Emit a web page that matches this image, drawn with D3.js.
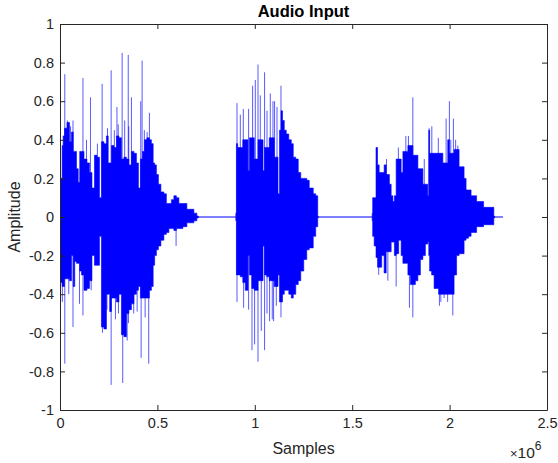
<!DOCTYPE html>
<html>
<head>
<meta charset="utf-8">
<script src="https://cdn.jsdelivr.net/npm/d3@7"></script>
<style>
  body { margin: 0; background: #fff; }
  svg { display: block; font-family: "Liberation Sans", Arial, sans-serif; }
</style>
</head>
<body>
<svg id="canvas"></svg>
<script>
"use strict";

// envelope of the waveform (samples, amplitude)
const seg1Samples = [2600, 7700, 14400, 17900, 28200, 43600, 53800, 64100, 71800, 79500,
  89700, 97400, 105100, 115400, 130800, 146200, 156400, 171800, 182100, 197400,
  207700, 217900, 233300, 243600, 251300, 259000, 269200, 284600, 294900, 310300,
  320500, 335900, 346200, 361500, 371800, 387200, 397400, 407700, 417900, 428200,
  438500, 453800, 464100, 474400, 482100, 489700, 500000, 510300, 525600, 541000,
  551300, 566700, 576900, 592300, 602600, 617900, 643600, 659000, 679500, 694900, 710300];
const seg1High = [0.08, 0.2, 0.37, 0.42, 0.46, 0.49, 0.39, 0.44, 0.34, 0.34,
  0.25, 0.18, 0.34, 0.34, 0.3, 0.28, 0.23, 0.15, 0.32, 0.31,
  0.1, 0.39, 0.38, 0.42, 0.28, 0.28, 0.37, 0.36, 0.42, 0.41,
  0.3, 0.31, 0.3, 0.27, 0.34, 0.33, 0.28, 0.15, 0.3, 0.34,
  0.4, 0.41, 0.4, 0.38, 0.28, 0.27, 0.22, 0.17, 0.13, 0.12,
  0.07, 0.07, 0.09, 0.11, 0.1, 0.07, 0.07, 0.04, 0.04, 0.02, 0.005];
const seg1Low = [-0.16, -0.34, -0.36, -0.36, -0.32, -0.32, -0.33, -0.2, -0.36, -0.23,
  -0.24, -0.24, -0.28, -0.3, -0.38, -0.37, -0.33, -0.2, -0.25, -0.25,
  -0.1, -0.57, -0.58, -0.4, -0.4, -0.49, -0.42, -0.42, -0.44, -0.4,
  -0.61, -0.62, -0.5, -0.48, -0.45, -0.4, -0.38, -0.36, -0.42, -0.42,
  -0.42, -0.42, -0.38, -0.36, -0.25, -0.2, -0.17, -0.15, -0.12, -0.09,
  -0.08, -0.06, -0.06, -0.07, -0.06, -0.06, -0.05, -0.03, -0.03, -0.02, -0.005];

const seg2Samples = [902600, 908700, 915400, 935900, 941000, 961500, 968200, 976900, 992300, 1002600,
  1012800, 1020500, 1038500, 1046200, 1053800, 1069200, 1079500, 1094900, 1105100, 1115400,
  1123100, 1130800, 1138500, 1146200, 1156400, 1166700, 1182100, 1192300, 1202600, 1217900,
  1228200, 1243600, 1259000, 1274400, 1284600, 1294900, 1305100, 1320500, 1325600];
const seg2High = [0.02, 0.38, 0.36, 0.36, 0.4, 0.4, 0.24, 0.41, 0.41, 0.3,
  0.3, 0.4, 0.4, 0.24, 0.36, 0.36, 0.41, 0.41, 0.31, 0.31,
  0.12, 0.45, 0.55, 0.5, 0.45, 0.43, 0.4, 0.38, 0.31, 0.3,
  0.23, 0.2, 0.2, 0.19, 0.15, 0.15, 0.12, 0.11, 0.005];
const seg2Low = [-0.02, -0.3, -0.3, -0.31, -0.34, -0.38, -0.2, -0.3, -0.37, -0.38,
  -0.38, -0.33, -0.33, -0.15, -0.3, -0.31, -0.33, -0.33, -0.36, -0.36,
  -0.3, -0.44, -0.44, -0.4, -0.38, -0.38, -0.4, -0.42, -0.4, -0.35,
  -0.33, -0.28, -0.22, -0.17, -0.16, -0.16, -0.1, -0.05, -0.005];

const seg3Samples = [1602600, 1607700, 1617900, 1626700, 1633300, 1643600, 1659000, 1669200, 1679500, 1687200,
  1694900, 1705100, 1712800, 1720500, 1730800, 1746200, 1756400, 1764100, 1782100, 1789700,
  1807700, 1815400, 1833300, 1841000, 1859000, 1866700, 1884600, 1891300, 1894900, 1900000,
  1915400, 1925600, 1961500, 1969200, 1987200, 1993800, 2002600, 2017900, 2028200, 2043600,
  2053800, 2069200, 2079500, 2089700, 2105100, 2115400, 2130800, 2146200, 2166700, 2182000,
  2197400, 2223100, 2230800];
const seg3High = [0.02, 0.1, 0.1, 0.36, 0.27, 0.23, 0.23, 0.27, 0.22, 0.22,
  0.17, 0.11, 0.08, 0.11, 0.3, 0.3, 0.23, 0.34, 0.34, 0.37,
  0.37, 0.32, 0.32, 0.25, 0.25, 0.17, 0.17, 0.11, 0.45, 0.33,
  0.33, 0.33, 0.33, 0.28, 0.28, 0.4, 0.33, 0.33, 0.35, 0.35,
  0.26, 0.26, 0.2, 0.14, 0.14, 0.11, 0.11, 0.08, 0.08, 0.05,
  0.05, 0.05, 0.005];
const seg3Low = [-0.02, -0.1, -0.15, -0.21, -0.26, -0.26, -0.2, -0.29, -0.18, -0.18,
  -0.18, -0.13, -0.13, -0.2, -0.19, -0.12, -0.2, -0.24, -0.24, -0.3,
  -0.35, -0.35, -0.33, -0.3, -0.22, -0.2, -0.14, -0.13, -0.2, -0.28,
  -0.3, -0.37, -0.4, -0.4, -0.4, -0.4, -0.4, -0.4, -0.3, -0.2,
  -0.19, -0.19, -0.12, -0.11, -0.1, -0.08, -0.08, -0.05, -0.05, -0.04,
  -0.04, -0.04, -0.005];

// isolated peaks
const peakUpSamples = [24600, 66700, 117900, 156400, 216400, 262600, 292300, 319000, 350300, 366700,
  414400, 421500, 447200, 459000,
  38000, 54000, 136000, 192000, 244000, 279000, 299000, 332000, 353000, 433000,
  908700, 925600, 941000, 968200, 988700, 1002600, 1016400, 1028200, 1050200, 1062600,
  1079500, 1093300, 1101500, 1113900, 1134400,
  1775400, 1788700, 1811300, 1894900, 1908700, 1982100, 1999000, 2019500, 2042100,
  1676000, 1737000, 1870000, 1942000, 2006000, 2031000];
const peakUpValues = [0.74, 0.5, 0.72, 0.62, 0.69, 0.76, 0.57, 0.85, 0.84, 0.62,
  0.6, 0.81, 0.44, 0.54,
  0.5, 0.47, 0.4, 0.38, 0.46, 0.45, 0.48, 0.5, 0.47, 0.45,
  0.59, 0.53, 0.56, 0.56, 0.68, 0.71, 0.79, 0.63, 0.75, 0.55,
  0.64, 0.6, 0.6, 0.57, 0.68,
  0.42, 0.42, 0.62, 0.46, 0.47, 0.51, 0.6, 0.51, 0.37,
  0.3, 0.36, 0.3, 0.41, 0.4, 0.4];
const peakDownSamples = [24600, 66700, 117900, 217900, 262600, 284600, 322100, 344600, 351300, 378500,
  416400, 455400, 595900,
  12000, 45000, 100000, 160000, 241000, 300000, 396000, 437000,
  908700, 942600, 968200, 985600, 999000, 1016400, 1033300, 1050200, 1062600, 1075900,
  1089700, 1096400, 1110300, 1134400,
  1725600, 1793800, 1811300, 1925600, 1947700, 1971800, 2016400,
  1636000, 1683000, 1955000, 1990000];
const peakDownValues = [-0.76, -0.57, -0.51, -0.6, -0.87, -0.53, -0.86, -0.64, -0.55, -0.5,
  -0.73, -0.76, -0.15,
  -0.44, -0.4, -0.45, -0.38, -0.48, -0.5, -0.49, -0.52,
  -0.44, -0.47, -0.48, -0.69, -0.66, -0.75, -0.59, -0.69, -0.5, -0.54,
  -0.53, -0.54, -0.46, -0.52,
  -0.36, -0.47, -0.52, -0.37, -0.46, -0.42, -0.51,
  -0.3, -0.33, -0.44, -0.44];

const signalEnd = 2274000;
const xTicks = [0, 500000, 1000000, 1500000, 2000000, 2500000];
const yTicks = [-1, -0.8, -0.6, -0.4, -0.2, 0, 0.2, 0.4, 0.6, 0.8, 1];

let width = 558;
let height = 463;
let padLeft = 60, padRight = 547, padTop = 24, padBottom = 410;
const axisColor = '#262626';
const lineColor = '#0000ff';

let canvas = d3.select('#canvas')
  .attr('width', width)
  .attr('height', height);

let xScale = d3.scaleLinear().domain([0, 2500000]).range([padLeft, padRight]);
let yScale = d3.scaleLinear().domain([-1, 1]).range([padBottom, padTop]);

const plot = canvas.append('g');

// zero line across the whole recording
plot.append('line')
  .attr('x1', xScale(0)).attr('x2', xScale(signalEnd))
  .attr('y1', yScale(0)).attr('y2', yScale(0))
  .attr('stroke', lineColor)
  .attr('stroke-width', 1);

const area = d3.area()
  .curve(d3.curveStep)
  .x(d => xScale(d.s))
  .y0(d => yScale(d.lo))
  .y1(d => yScale(d.hi));

[[seg1Samples, seg1High, seg1Low], [seg2Samples, seg2High, seg2Low], [seg3Samples, seg3High, seg3Low]]
  .forEach(([s, hi, lo]) => {
    let pts = s.map((v, i) => ({s: v, hi: hi[i], lo: lo[i]}));
    plot.append('path')
      .attr('d', area(pts))
      .attr('fill', lineColor)
      .attr('stroke', lineColor)
      .attr('stroke-width', 0.6);
  });

plot.selectAll('line.up')
  .data(peakUpSamples)
  .enter()
  .append('line')
  .attr('class', 'up')
  .attr('x1', d => xScale(d)).attr('x2', d => xScale(d))
  .attr('y1', yScale(0))
  .attr('y2', (d, i) => yScale(peakUpValues[i]))
  .attr('stroke', lineColor)
  .attr('stroke-opacity', 0.65)
  .attr('stroke-width', 1);

plot.selectAll('line.down')
  .data(peakDownSamples)
  .enter()
  .append('line')
  .attr('class', 'down')
  .attr('x1', d => xScale(d)).attr('x2', d => xScale(d))
  .attr('y1', yScale(0))
  .attr('y2', (d, i) => yScale(peakDownValues[i]))
  .attr('stroke', lineColor)
  .attr('stroke-opacity', 0.65)
  .attr('stroke-width', 1);

// axes, matlab style: ticks pointing in, box on
const yFormat = d => String(Math.round(d * 10) / 10);

let xAxis = d3.axisBottom(xScale).tickValues(xTicks)
  .tickFormat(d => String(d / 1e6))
  .tickSizeInner(-5).tickSizeOuter(0).tickPadding(8);
let xTop = d3.axisTop(xScale).tickValues(xTicks)
  .tickFormat('').tickSizeInner(-5).tickSizeOuter(0);
let yAxis = d3.axisLeft(yScale).tickValues(yTicks)
  .tickFormat(yFormat).tickSizeInner(-5).tickSizeOuter(0).tickPadding(6);
let yRight = d3.axisRight(yScale).tickValues(yTicks)
  .tickFormat('').tickSizeInner(-5).tickSizeOuter(0);

const axes = [
  canvas.append('g').attr('transform', 'translate(0,' + padBottom + ')').call(xAxis),
  canvas.append('g').attr('transform', 'translate(0,' + padTop + ')').call(xTop),
  canvas.append('g').attr('transform', 'translate(' + padLeft + ',0)').call(yAxis),
  canvas.append('g').attr('transform', 'translate(' + padRight + ',0)').call(yRight)
];
axes.forEach(g => {
  g.select('.domain').attr('stroke', axisColor);
  g.selectAll('.tick line').attr('stroke', axisColor);
  g.selectAll('.tick text')
    .attr('fill', axisColor)
    .style('font-size', '14.5px')
    .style('font-family', '"Liberation Sans", Arial, sans-serif');
});

canvas.append('text')
  .attr('x', (padLeft + padRight) / 2)
  .attr('y', 17)
  .attr('text-anchor', 'middle')
  .attr('font-weight', 'bold')
  .attr('font-size', 16.5)
  .attr('fill', '#000')
  .text('Audio Input');

canvas.append('text')
  .attr('x', (padLeft + padRight) / 2)
  .attr('y', 454)
  .attr('text-anchor', 'middle')
  .attr('font-size', 16)
  .attr('fill', axisColor)
  .text('Samples');

canvas.append('text')
  .attr('transform', 'translate(20,' + ((padTop + padBottom) / 2) + ') rotate(-90)')
  .attr('text-anchor', 'middle')
  .attr('font-size', 16)
  .attr('fill', axisColor)
  .text('Amplitude');

const expo = canvas.append('text')
  .attr('x', 510)
  .attr('y', 458)
  .attr('fill', axisColor)
  .attr('font-size', 15.5);
expo.append('tspan').attr('font-size', 13).text('\u00d7');
expo.append('tspan').text('10');
expo.append('tspan').attr('dy', -8).attr('font-size', 12).text('6');
</script>
</body>
</html>
